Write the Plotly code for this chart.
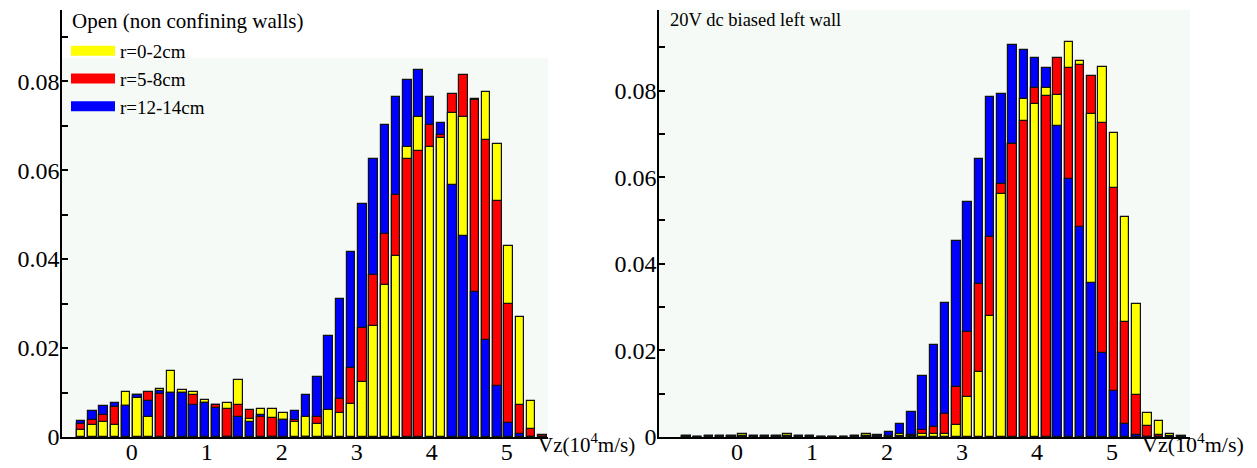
import plotly.graph_objects as go

# ---------------- data ----------------
# left edges of the velocity bins (10^4 m/s)
bins_left = [-0.75, -0.6, -0.45, -0.3, -0.15, 0.0, 0.15, 0.3, 0.45, 0.6, 0.75, 0.9,
             1.05, 1.2, 1.35, 1.5, 1.65, 1.8, 1.95, 2.1, 2.25, 2.4, 2.55, 2.7,
             2.85, 3.0, 3.15, 3.3, 3.45, 3.6, 3.75, 3.9, 4.05, 4.2, 4.35, 4.5,
             4.65, 4.8, 4.95, 5.1, 5.25, 5.4]
yellow_left = [0.0016, 0.0028, 0.0033, 0.0028, 0.0102, 0.0088, 0.0046, 0.0108, 0.0149, 0.0105,
               0.0102, 0.0083, 0.0073, 0.0077, 0.0129, 0.0041, 0.0063, 0.0063, 0.0055, 0.0034,
               0.0046, 0.0029, 0.0061, 0.0054, 0.0075, 0.0123, 0.0249, 0.0342, 0.0408, 0.0653,
               0.0719, 0.0653, 0.0672, 0.0728, 0.0719, 0.0760, 0.0775, 0.0659, 0.0430, 0.0270,
               0.0082, 0.0]
red_left = [0.0029, 0.0039, 0.0049, 0.0067, 0.0069, 0.0094, 0.0102, 0.0097, 0.0100, 0.0099,
            0.0095, 0.0077, 0.0073, 0.0064, 0.0073, 0.0060, 0.0046, 0.0043, 0.0039, 0.0039,
            0.0, 0.0046, 0.0, 0.0085, 0.0156, 0.0246, 0.0365, 0.0456, 0.0543, 0.0625,
            0.0644, 0.0702, 0.0679, 0.0771, 0.0814, 0.0758, 0.0668, 0.0531, 0.0299, 0.0073,
            0.0019, 0.0004]
blue_left = [0.0035, 0.0058, 0.0069, 0.0077, 0.0069, 0.0094, 0.0082, 0.0103, 0.0100, 0.0099,
             0.0073, 0.0077, 0.0066, 0.0, 0.0044, 0.0034, 0.0050, 0.0, 0.0039, 0.0058,
             0.0095, 0.0136, 0.0228, 0.0310, 0.0417, 0.0524, 0.0625, 0.0702, 0.0764, 0.0803,
             0.0824, 0.0764, 0.0707, 0.0567, 0.0451, 0.0326, 0.0219, 0.0115, 0.0031, 0.0007,
             0.0, 0.0]

bins_right = [-0.75, -0.6, -0.45, -0.3, -0.15, 0.0, 0.15, 0.3, 0.45, 0.6, 0.75, 0.9,
              1.05, 1.2, 1.35, 1.5, 1.65, 1.8, 1.95, 2.1, 2.25, 2.4, 2.55, 2.7,
              2.85, 3.0, 3.15, 3.3, 3.45, 3.6, 3.75, 3.9, 4.05, 4.2, 4.35, 4.5,
              4.65, 4.8, 4.95, 5.1, 5.25, 5.4, 5.55, 5.7, 5.85]
yellow_right = [0.0002, 0.0, 0.0002, 0.0002, 0.0002, 0.0008, 0.0002, 0.0002, 0.0002, 0.0008,
                0.0002, 0.0002, 0.0, 0.0, 0.0, 0.0002, 0.0007, 0.0003, 0.0003, 0.0006,
                0.0002, 0.0008, 0.0008, 0.0008, 0.0027, 0.0092, 0.0150, 0.0279, 0.0560, 0.0676,
                0.0781, 0.0770, 0.0805, 0.0789, 0.0913, 0.0869, 0.0745, 0.0855, 0.0702, 0.0509,
                0.0308, 0.0056, 0.0036, 0.0007, 0.0002]
red_right = [0.0002, 0.0, 0.0002, 0.0002, 0.0002, 0.0002, 0.0002, 0.0002, 0.0002, 0.0002,
             0.0002, 0.0002, 0.0, 0.0, 0.0, 0.0002, 0.0002, 0.0003, 0.0003, 0.0003,
             0.0004, 0.0016, 0.0022, 0.0053, 0.0115, 0.0243, 0.0354, 0.0462, 0.0584, 0.0676,
             0.0729, 0.0805, 0.0788, 0.0876, 0.0852, 0.0860, 0.0834, 0.0726, 0.0574, 0.0266,
             0.0096, 0.0026, 0.0005, 0.0002, 0.0002]
blue_right = [0.0003, 0.0, 0.0002, 0.0002, 0.0002, 0.0002, 0.0002, 0.0002, 0.0002, 0.0002,
              0.0002, 0.0002, 0.0, 0.0, 0.0, 0.0002, 0.0002, 0.0004, 0.0012, 0.0031,
              0.0057, 0.0142, 0.0212, 0.0309, 0.0452, 0.0542, 0.0641, 0.0784, 0.0793, 0.0905,
              0.0893, 0.0876, 0.0852, 0.0718, 0.0595, 0.0484, 0.0355, 0.0195, 0.0107, 0.0030,
              0.0005, 0.0, 0.0, 0.0, 0.0]

series_names = ["r=0-2cm", "r=5-8cm", "r=12-14cm"]
series_colors = ["#ffff00", "#ff0000", "#0000ff"]
x_tick_vals = [0, 1, 2, 3, 4, 5]
y_tick_vals = [0, 0.02, 0.04, 0.06, 0.08]
y_tick_text = ["0", "0.02", "0.04", "0.06", "0.08"]
y_minor_step = 0.01

# ---------------- styling ----------------
W, H = 1257, 468
PAGE_OFF = 8          # default body margin of the page holding the figure
BIN_W = 0.15
BAR_W = 0.116
FONT = "Liberation Serif"
BG = "#f5faf6"
OUTLINE = dict(color="#111111", width=1.2)


def px_x(p):
    """page pixel (from left) -> paper x"""
    return (p - PAGE_OFF) / W


def px_y(p):
    """page pixel (from top) -> paper y"""
    return 1 - (p - PAGE_OFF) / H


def layers(series):
    """Split the overlapping histograms into back/middle/front layers per bin
    (tallest bar drawn first, shortest in front)."""
    n = len(series[0])
    out = [([], []) for _ in series]
    for i in range(n):
        items = sorted([(s[i], series_colors[k]) for k, s in enumerate(series)],
                       key=lambda t: -t[0])
        for rank, (v, c) in enumerate(items):
            out[rank][0].append(v)
            out[rank][1].append(c)
    return out


fig = go.Figure()

for bins, series, xa, ya in [
    (bins_left, [yellow_left, red_left, blue_left], "x", "y"),
    (bins_right, [yellow_right, red_right, blue_right], "x2", "y2"),
]:
    for vals, cols in layers(series):
        fig.add_trace(go.Bar(
            x=bins, y=vals, width=BAR_W, offset=(BIN_W - BAR_W) / 2,
            marker=dict(color=cols, line=OUTLINE),
            xaxis=xa, yaxis=ya, showlegend=False, hoverinfo="skip",
        ))

# legend entries
for name, col in zip(series_names, series_colors):
    fig.add_trace(go.Scatter(
        x=[None], y=[None], mode="lines", name=name,
        line=dict(color=col, width=10), xaxis="x", yaxis="y",
    ))

ydom = [px_y(437), px_y(10)]
axis_common = dict(showgrid=False, zeroline=False, showline=True, linecolor="black",
                   linewidth=1.5, automargin=False,
                   tickfont=dict(family=FONT, size=24, color="black"))
xaxis_common = dict(tickvals=x_tick_vals, ticks="", ticklabelstandoff=-8, **axis_common)
yaxis_common = dict(tickvals=y_tick_vals, ticktext=y_tick_text, ticks="inside",
                    ticklen=6, tickwidth=1.5, tickcolor="black", ticklabelstandoff=-4,
                    minor=dict(tick0=0, dtick=y_minor_step, ticks="inside", ticklen=6,
                               tickwidth=1.5, tickcolor="black", showgrid=False),
                    **axis_common)

fig.update_layout(
    width=W, height=H,
    margin=dict(l=0, r=0, t=0, b=0),
    paper_bgcolor="white", plot_bgcolor="white",
    barmode="overlay",
    bargap=0,
    font=dict(family=FONT, color="black"),
    xaxis=dict(domain=[px_x(62), px_x(548)], range=[-0.93, 5.55], anchor="y", **xaxis_common),
    yaxis=dict(domain=ydom, range=[0, 0.096], anchor="x", **yaxis_common),
    xaxis2=dict(domain=[px_x(659), px_x(1190)], range=[-1.04, 6.04], anchor="y2", **xaxis_common),
    yaxis2=dict(domain=ydom, range=[0, 0.0986], anchor="x2", **yaxis_common),
    legend=dict(
        x=px_x(66), y=px_y(32), xanchor="left", yanchor="top",
        bgcolor="rgba(0,0,0,0)", itemwidth=44, tracegroupgap=0,
        font=dict(family=FONT, size=19, color="black"),
    ),
    shapes=[
        dict(type="rect", xref="x domain", yref="y", x0=0, x1=1, y0=0, y1=0.0852,
             fillcolor=BG, line=dict(width=0), layer="below"),
        dict(type="rect", xref="x2 domain", yref="y2 domain", x0=0, x1=1, y0=0, y1=1,
             fillcolor=BG, line=dict(width=0), layer="below"),
    ],
    annotations=[
        dict(text="Open (non confining walls)", xref="paper", yref="paper",
             x=px_x(70), y=px_y(21), xanchor="left", yanchor="middle", showarrow=False,
             font=dict(family=FONT, size=21, color="black")),
        dict(text="20V dc biased left wall", xref="paper", yref="paper",
             x=px_x(668), y=px_y(20), xanchor="left", yanchor="middle", showarrow=False,
             font=dict(family=FONT, size=18.5, color="black")),
        dict(text="Vz(10<sup>4</sup>m/s)", xref="paper", yref="paper",
             x=px_x(536), y=px_y(443), xanchor="left", yanchor="middle", showarrow=False,
             font=dict(family=FONT, size=21, color="black")),
        dict(text="Vz(10<sup>4</sup>m/s)", xref="paper", yref="paper",
             x=px_x(1140), y=px_y(443), xanchor="left", yanchor="middle", showarrow=False,
             font=dict(family=FONT, size=22, color="black")),
    ],
)

fig.write_html("out.html")
